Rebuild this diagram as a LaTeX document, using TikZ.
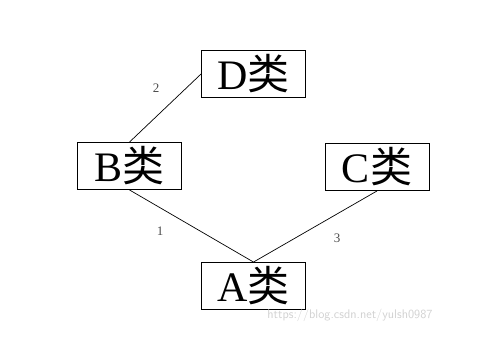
\documentclass[tikz,border=0pt]{standalone}
\usepackage{fontspec}
\setmainfont{Liberation Serif}
\newfontfamily\cjk{Noto Sans CJK SC}
\begin{document}
\begin{tikzpicture}[x=1pt,y=-1pt,
  classbox/.style={draw,line width=0.9pt,minimum width=104pt,minimum height=47pt,inner sep=0pt,font=\fontsize{42}{42}\selectfont},
  edgelabel/.style={font=\fontsize{13}{13}\selectfont,text=black!70},
  conn/.style={line width=0.7pt}]
\useasboundingbox (0,0) rectangle (493,343);
\node[classbox] (D) at (253.5,74) {D{\cjk 类}};
\node[classbox] (B) at (129.5,166) {B{\cjk 类}};
\node[classbox] (C) at (377,167) {C{\cjk 类}};
\node[classbox] (A) at (253.5,286) {A{\cjk 类}};
\draw[conn] (B.north) -- (D.west);
\draw[conn] (B.south) -- (A.north);
\draw[conn] (C.south) -- (A.north);
\node[edgelabel] (l2) at (156,88) {2};
\node[edgelabel] (l1) at (160,231) {1};
\node[edgelabel] (l3) at (337,238) {3};
\node[font=\fontsize{12.5}{12.5}\selectfont\sffamily,text=black!18] (wm) at (350,315) {https://blog.csdn.net/yulsh0987};
\end{tikzpicture}
\end{document}
